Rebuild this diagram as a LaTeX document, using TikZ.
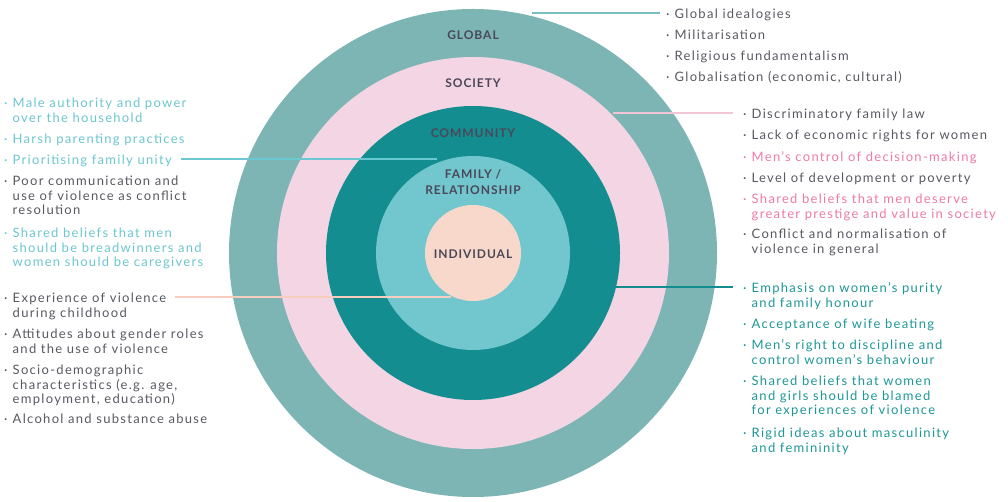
\documentclass[tikz,border=0pt]{standalone}
\usepackage{fontspec}
\setmainfont{Lato}
\newfontfamily\ringfont[LetterSpace=8]{Lato}
\newfontfamily\itemfont[LetterSpace=10]{Lato}

\definecolor{globalring}{HTML}{7DB5B5}
\definecolor{societyring}{HTML}{F3D5E3}
\definecolor{communityring}{HTML}{138D8F}
\definecolor{familyring}{HTML}{72C7CE}
\definecolor{individualring}{HTML}{F8D8CB}
\definecolor{ringtext}{HTML}{4A4858}
\definecolor{greytext}{HTML}{585862}
\definecolor{cyantext}{HTML}{6CC6CF}
\definecolor{pinktext}{HTML}{EE7AA5}
\definecolor{tealtext}{HTML}{1E9696}
\definecolor{globalline}{HTML}{78BFC5}
\definecolor{societyline}{HTML}{F2C6D6}
\definecolor{familyline}{HTML}{6CC8D0}
\definecolor{individualline}{HTML}{F6CDBE}

% bullet and hanging indent
\newcommand\bl{\strut\makebox[8.5pt][l]{·}}
\newcommand\ind{\hspace*{8.5pt}}

\begin{document}
\begin{tikzpicture}[x=1pt,y=-1pt,
  ring/.style={inner sep=0pt, align=center, text=ringtext,
    font=\ringfont\bfseries\fontsize{12}{16}\selectfont},
  item/.style={anchor=north west, inner sep=0pt, align=left,
    font=\itemfont\fontsize{13}{14.7}\selectfont},
  link/.style={line width=1.3pt}]
\useasboundingbox (0,0) rectangle (1008,502);

% the rings, outside in
\foreach \r/\c in {244/globalring,196/societyring,147/communityring,97/familyring,48/individualring} {
  \fill[\c] (473,253) circle (\r pt);
}
\node[ring] (lglobal) at (473,35) {GLOBAL};
\node[ring] (lsociety) at (473,83) {SOCIETY};
\node[ring] (lcommunity) at (473,133) {COMMUNITY};
\node[ring] (lfamily) at (473,182) {FAMILY /\\RELATIONSHIP};
\node[ring] (lindividual) at (473,254) {INDIVIDUAL};

% left: family and individual factors
\foreach \y/\c/\t [count=\i] in {
  102/cyantext/{Male authority and power\\\ind over the household},
  138/cyantext/{Harsh parenting practices},
  159/cyantext/{Prioritising family unity},
  180/greytext/{Poor communication and\\\ind use of violence as conflict\\\ind resolution},
  232/cyantext/{Shared beliefs that men\\\ind should be breadwinners and\\\ind women should be caregivers},
  297/greytext/{Experience of violence\\\ind during childhood},
  333/greytext/{Attitudes about gender roles\\\ind and the use of violence},
  369/greytext/{Socio-demographic\\\ind characteristics (e.g. age,\\\ind employment, education)},
  418/greytext/{Alcohol and substance abuse}} {
  \node[item,text=\c] (l\i) at (4,\y-5) {\bl\t};
}

% right: global factors
\foreach \y/\t [count=\i] in {
  13/{Global idealogies},
  34/{Militarisation},
  55/{Religious fundamentalism},
  76/{Globalisation (economic, cultural)}} {
  \node[item,text=greytext] (g\i) at (666,\y-5) {\bl\t};
}

% right: society factors
\foreach \y/\c/\t [count=\i] in {
  113/greytext/{Discriminatory family law},
  134/greytext/{Lack of economic rights for women},
  156/pinktext/{Men’s control of decision-making},
  177/greytext/{Level of development or poverty},
  198/pinktext/{Shared beliefs that men deserve\\\ind greater prestige and value in society},
  233/greytext/{Conflict and normalisation of\\\ind violence in general}} {
  \node[item,text=\c] (s\i) at (743,\y-5) {\bl\t};
}

% right: community factors
\foreach \y/\t [count=\i] in {
  287/{Emphasis on women’s purity\\\ind and family honour},
  323/{Acceptance of wife beating},
  344/{Men’s right to discipline and\\\ind control women’s behaviour},
  380/{Shared beliefs that women\\\ind and girls should be blamed\\\ind for experiences of violence},
  432/{Rigid ideas about masculinity\\\ind and femininity}} {
  \node[item,text=tealtext] (c\i) at (743,\y-5) {\bl\t};
}

% connectors
\coordinate (gpt) at (532,13);
\coordinate (spt) at (613,113);
\coordinate (cpt) at (615,287);
\coordinate (fpt) at (437,159);
\coordinate (ipt) at (451,297);
\draw[link,globalline] (gpt) -- ([xshift=-6pt]gpt -| g1.west);
\draw[link,societyline] (spt) -- ([xshift=-10pt]spt -| s1.west);
\draw[link,communityring] (cpt) -- ([xshift=-10pt]cpt -| c1.west);
\draw[link,familyline] (fpt) -- ([xshift=9pt]fpt -| l3.east);
\draw[link,individualline] (ipt) -- ([xshift=9pt]ipt -| l6.east);
\end{tikzpicture}
\end{document}
